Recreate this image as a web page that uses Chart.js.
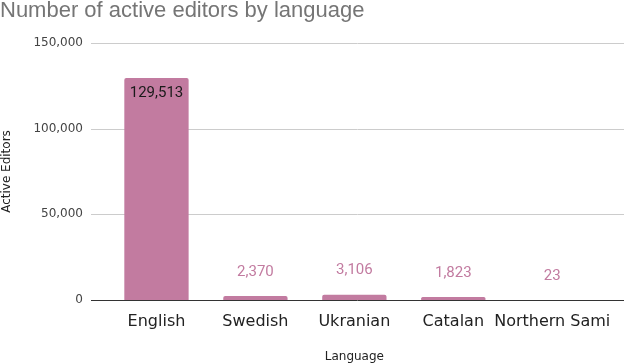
<!DOCTYPE html>
<html>
<head>
<meta charset="utf-8">
<script src="https://cdn.jsdelivr.net/npm/chart.js@4.4.0/dist/chart.umd.min.js"></script>
<style>
  html, body { margin: 0; padding: 0; background: #fff; }
  #wrap { width: 624px; height: 364px; position: relative; }
</style>
</head>
<body>
<div id="wrap"><canvas id="editorsChart"></canvas></div>
<script>
const languages = ['English', 'Swedish', 'Ukranian', 'Catalan', 'Northern Sami'];
const activeEditors = [129513, 2370, 3106, 1823, 23];
const yTicks = [0, 50000, 100000, 150000];

const BAR_COLOR = '#c27ba0';
const TEXT_FONT = '"DejaVu Sans", "Liberation Sans", Arial, sans-serif';
const TITLE_FONT = '"Liberation Sans", Arial, sans-serif';
const TICK_LEN = 16;

// value labels: inside tall bars, above short ones
const valueLabels = {
  id: 'valueLabels',
  afterDatasetsDraw(chart) {
    const ctx = chart.ctx;
    const meta = chart.getDatasetMeta(0);
    ctx.save();
    ctx.font = '15px Roboto, sans-serif';
    ctx.textAlign = 'center';
    ctx.textBaseline = 'middle';
    meta.data.forEach((bar, i) => {
      const text = activeEditors[i].toLocaleString('en-US');
      const inside = bar.base - bar.y > 40;
      ctx.fillStyle = inside ? '#1a1a1a' : BAR_COLOR;
      ctx.fillText(text, bar.x, inside ? bar.y + 15 : bar.y - 24);
    });
    ctx.restore();
  }
};

// horizontal gridlines: start at the tick marks, run to the right edge of the picture
const gridLines = {
  id: 'gridLines',
  beforeDatasetsDraw(chart) {
    const ctx = chart.ctx;
    const y = chart.scales.y;
    ctx.save();
    ctx.lineWidth = 1;
    yTicks.forEach(v => {
      const py = Math.round(y.getPixelForValue(v)) + 0.5;
      ctx.strokeStyle = v === 0 ? '#333333' : '#cccccc';
      ctx.beginPath();
      ctx.moveTo(chart.chartArea.left - TICK_LEN, py);
      ctx.lineTo(chart.width, py);
      ctx.stroke();
    });
    ctx.restore();
  }
};

new Chart(document.getElementById('editorsChart').getContext('2d'), {
  type: 'bar',
  data: {
    labels: languages,
    datasets: [{
      label: 'Active Editors',
      data: activeEditors,
      backgroundColor: BAR_COLOR,
      borderRadius: { topLeft: 2, topRight: 2 },
      borderSkipped: 'bottom',
      barPercentage: 0.65,
      categoryPercentage: 1
    }]
  },
  options: {
    responsive: true,
    maintainAspectRatio: false,
    animation: false,
    layout: { padding: { left: 0, right: 17, top: 0, bottom: 0 } },
    plugins: {
      legend: { display: false },
      tooltip: { enabled: false },
      title: {
        display: true,
        text: 'Number of active editors by language',
        align: 'start',
        color: '#757575',
        font: { family: TITLE_FONT, size: 22, weight: 'normal', lineHeight: 1 },
        padding: { top: 0, bottom: 21 }
      }
    },
    scales: {
      x: {
        grid: { display: false, drawTicks: false },
        border: { display: false },
        ticks: {
          color: '#222222',
          padding: 12,
          maxRotation: 0,
          autoSkip: false,
          font: { family: TEXT_FONT, size: 16 }
        },
        title: {
          display: true,
          text: 'Language',
          color: '#222222',
          font: { family: TEXT_FONT, size: 12 },
          padding: { top: 0, bottom: 0 }
        },
        afterFit(scale) { scale.height = 64; }
      },
      y: {
        min: 0,
        max: 150000,
        afterBuildTicks(scale) { scale.ticks = yTicks.map(v => ({ value: v })); },
        grid: { display: false, drawTicks: true, tickLength: TICK_LEN },
        border: { display: false },
        ticks: {
          color: '#444444',
          padding: 8,
          font: { family: TEXT_FONT, size: 12 },
          callback: v => v.toLocaleString('en-US')
        },
        title: {
          display: true,
          text: 'Active Editors',
          color: '#222222',
          font: { family: TEXT_FONT, size: 12 },
          padding: { top: 0, bottom: 0 }
        },
        afterFit(scale) { scale.width = 107; }
      }
    }
  },
  plugins: [gridLines, valueLabels]
});
</script>
</body>
</html>
